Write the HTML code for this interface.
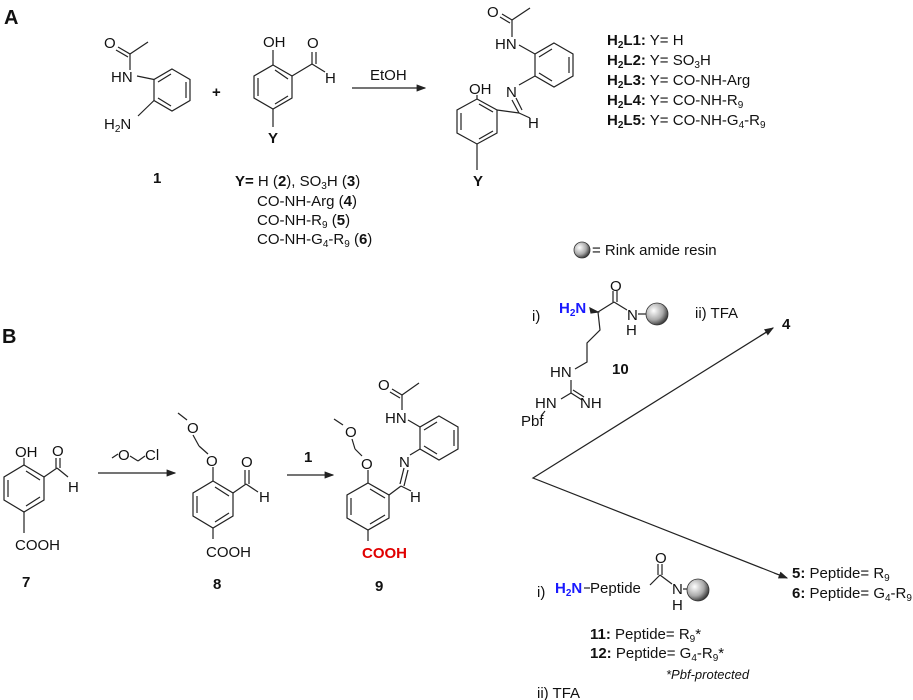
<!DOCTYPE html>
<html><head><meta charset="utf-8"><style>
html,body{margin:0;padding:0;background:#fff}
svg{display:block}
text{font-family:"Liberation Sans",Arial,sans-serif;font-size:15px;fill:#111}
.b{font-weight:bold}
.s{font-size:10px}
line,polyline,polygon{stroke:#222;stroke-width:1.2;fill:none}
</style></head><body>
<svg width="913" height="700" viewBox="0 0 913 700" xmlns="http://www.w3.org/2000/svg">
<defs>
<marker id="ah" markerWidth="8" markerHeight="6" refX="7" refY="3" orient="auto"><path d="M0,0 L8,3 L0,6 z" fill="#222"/></marker>
<radialGradient id="bead" cx="35%" cy="35%" r="70%"><stop offset="0" stop-color="#fff"/><stop offset="0.6" stop-color="#aaa"/><stop offset="1" stop-color="#333"/></radialGradient>
</defs>

<text x="4" y="24" class="b" style="font-size:20px">A</text>

<polygon points="172,69 190,79.5 190,100.5 172,111 154,100.5 154,79.5"/>
<line x1="186" y1="82" x2="186" y2="98"/><line x1="158" y1="82" x2="171" y2="74"/><line x1="158" y1="98" x2="171" y2="106"/>
<line x1="154" y1="79.5" x2="137" y2="76"/><line x1="154" y1="100.5" x2="138" y2="116"/>
<line x1="130" y1="70" x2="130" y2="54"/><line x1="130" y1="54" x2="148" y2="42"/>
<line x1="130" y1="54" x2="118" y2="47"/><line x1="128" y1="57" x2="116" y2="50"/>
<text x="104" y="48">O</text><text x="111" y="82">HN</text><text x="104" y="129">H<tspan class="s" dy="3">2</tspan><tspan dy="-3">N</tspan></text>
<text x="153" y="183" class="b">1</text>
<text x="212" y="97" class="b">+</text>

<polygon points="273,65 292,76 292,98 273,109 254,98 254,76"/>
<line x1="258" y1="78" x2="258" y2="96"/><line x1="288" y1="79" x2="275" y2="70"/><line x1="288" y1="96" x2="275" y2="104"/>
<line x1="273" y1="65" x2="273" y2="50"/>
<text x="263" y="47">OH</text>
<line x1="292" y1="76" x2="312" y2="64"/><line x1="312" y1="64" x2="312" y2="52"/><line x1="316" y1="64" x2="316" y2="52"/>
<text x="307" y="48">O</text>
<line x1="312" y1="64" x2="325" y2="72"/><text x="325" y="83">H</text>
<line x1="273" y1="109" x2="273" y2="127"/>
<text x="268" y="143" class="b">Y</text>

<line x1="352" y1="88" x2="425" y2="88" marker-end="url(#ah)"/>
<text x="370" y="80">EtOH</text>

<text x="235" y="186"><tspan class="b">Y=</tspan> H (<tspan class="b">2</tspan>), SO<tspan class="s" dy="3">3</tspan><tspan dy="-3">H (</tspan><tspan class="b">3</tspan>)</text>
<text x="257" y="206">CO-NH-Arg (<tspan class="b">4</tspan>)</text>
<text x="257" y="225">CO-NH-R<tspan class="s" dy="3">9</tspan><tspan dy="-3"> (</tspan><tspan class="b">5</tspan>)</text>
<text x="257" y="244">CO-NH-G<tspan class="s" dy="3">4</tspan><tspan dy="-3">-R</tspan><tspan class="s" dy="3">9</tspan><tspan dy="-3"> (</tspan><tspan class="b">6</tspan>)</text>

<polygon points="554,43 573,54 573,76 554,87 535,76 535,54"/>
<line x1="569" y1="57" x2="569" y2="73"/><line x1="539" y1="57" x2="552" y2="49"/><line x1="539" y1="73" x2="552" y2="81"/>
<line x1="535" y1="54" x2="519" y2="45"/>
<text x="495" y="49">HN</text>
<line x1="512" y1="37" x2="512" y2="20"/><line x1="512" y1="20" x2="530" y2="8"/>
<line x1="512" y1="20" x2="502" y2="14"/><line x1="510" y1="23" x2="500" y2="17"/>
<text x="487" y="17">O</text>
<line x1="535" y1="76" x2="519" y2="85"/>
<text x="506" y="97">N</text>
<line x1="512" y1="100" x2="519" y2="113"/><line x1="516" y1="98" x2="522" y2="110"/>
<line x1="519" y1="113" x2="530" y2="118"/><text x="528" y="128">H</text>
<polygon points="477,99 497,110 497,133 477,144 457,133 457,110"/>
<line x1="461" y1="113" x2="461" y2="130"/><line x1="493" y1="112" x2="479" y2="104"/><line x1="493" y1="131" x2="479" y2="139"/>
<line x1="497" y1="110" x2="519" y2="113"/>
<line x1="477" y1="99" x2="477" y2="95"/>
<text x="469" y="94">OH</text>
<line x1="477" y1="144" x2="477" y2="170"/>
<text x="473" y="186" class="b">Y</text>

<text x="607" y="45"><tspan class="b">H<tspan class="s" dy="3">2</tspan><tspan dy="-3">L1:</tspan></tspan> Y= H</text>
<text x="607" y="65"><tspan class="b">H<tspan class="s" dy="3">2</tspan><tspan dy="-3">L2:</tspan></tspan> Y= SO<tspan class="s" dy="3">3</tspan><tspan dy="-3">H</tspan></text>
<text x="607" y="85"><tspan class="b">H<tspan class="s" dy="3">2</tspan><tspan dy="-3">L3:</tspan></tspan> Y= CO-NH-Arg</text>
<text x="607" y="105"><tspan class="b">H<tspan class="s" dy="3">2</tspan><tspan dy="-3">L4:</tspan></tspan> Y= CO-NH-R<tspan class="s" dy="3">9</tspan></text>
<text x="607" y="125"><tspan class="b">H<tspan class="s" dy="3">2</tspan><tspan dy="-3">L5:</tspan></tspan> Y= CO-NH-G<tspan class="s" dy="3">4</tspan><tspan dy="-3">-R</tspan><tspan class="s" dy="3">9</tspan></text>

<circle cx="582" cy="250" r="8" fill="url(#bead)" stroke="#333" stroke-width="0.8"/>
<text x="592" y="255">= Rink amide resin</text>

<text x="2" y="343" class="b" style="font-size:20px">B</text>

<polygon points="24,465 44,477 44,500 24,512 4,500 4,477"/>
<line x1="8" y1="480" x2="8" y2="497"/><line x1="40" y1="480" x2="26" y2="471"/><line x1="40" y1="497" x2="26" y2="506"/>
<line x1="24" y1="465" x2="24" y2="458"/><text x="15" y="457">OH</text>
<line x1="44" y1="477" x2="57" y2="468"/><line x1="56" y1="468" x2="56" y2="458"/><line x1="60" y1="468" x2="60" y2="458"/>
<text x="52" y="456">O</text><line x1="57" y1="468" x2="68" y2="477"/><text x="68" y="492">H</text>
<line x1="24" y1="512" x2="24" y2="533"/>
<text x="15" y="550">COOH</text>
<text x="22" y="587" class="b">7</text>

<line x1="98" y1="473" x2="175" y2="473" marker-end="url(#ah)"/>
<line x1="112" y1="458" x2="118" y2="454"/><text x="118" y="460">O</text><line x1="130" y1="456" x2="138" y2="461"/><line x1="138" y1="461" x2="145" y2="456"/><text x="145" y="460">Cl</text>

<polygon points="213,481 233,493 233,516 213,528 193,516 193,493"/>
<line x1="197" y1="496" x2="197" y2="513"/><line x1="229" y1="496" x2="215" y2="487"/><line x1="229" y1="513" x2="215" y2="522"/>
<line x1="213" y1="481" x2="213" y2="467"/><text x="206" y="466">O</text>
<line x1="208" y1="454" x2="199" y2="446"/><line x1="199" y1="446" x2="193" y2="435"/>
<text x="187" y="433">O</text><line x1="187" y1="420" x2="178" y2="413"/>
<line x1="233" y1="493" x2="246" y2="484"/><line x1="245" y1="484" x2="245" y2="470"/><line x1="249" y1="484" x2="249" y2="470"/>
<text x="241" y="467">O</text><line x1="246" y1="484" x2="258" y2="492"/><text x="259" y="502">H</text>
<line x1="213" y1="528" x2="213" y2="539"/>
<text x="206" y="557">COOH</text>
<text x="213" y="589" class="b">8</text>

<line x1="287" y1="475" x2="333" y2="475" marker-end="url(#ah)"/>
<text x="304" y="462" class="b">1</text>

<polygon points="368,483 389,495 389,518 368,530 347,518 347,495"/>
<line x1="351" y1="498" x2="351" y2="515"/><line x1="385" y1="498" x2="370" y2="489"/><line x1="385" y1="515" x2="370" y2="524"/>
<line x1="368" y1="483" x2="368" y2="470"/><text x="361" y="469">O</text>
<line x1="362" y1="456" x2="355" y2="449"/><line x1="355" y1="449" x2="352" y2="439"/>
<text x="345" y="437">O</text><line x1="343" y1="425" x2="334" y2="419"/>
<line x1="389" y1="495" x2="401" y2="486"/><line x1="401" y1="486" x2="411" y2="491"/><text x="410" y="502">H</text>
<line x1="400" y1="484" x2="404" y2="468"/><line x1="404" y1="486" x2="408" y2="470"/>
<text x="399" y="467">N</text>
<polygon points="439,416 458,427 458,449 439,460 420,449 420,427"/>
<line x1="454" y1="430" x2="454" y2="446"/><line x1="424" y1="430" x2="437" y2="422"/><line x1="424" y1="446" x2="437" y2="454"/>
<line x1="420" y1="449" x2="410" y2="455"/>
<line x1="420" y1="427" x2="408" y2="420"/>
<text x="385" y="423">HN</text>
<line x1="402" y1="410" x2="402" y2="395"/><line x1="402" y1="395" x2="419" y2="383"/>
<line x1="402" y1="395" x2="392" y2="389"/><line x1="400" y1="398" x2="390" y2="392"/>
<text x="378" y="390">O</text>
<line x1="368" y1="530" x2="368" y2="541"/>
<text x="362" y="558" class="b" style="fill:#e00000">COOH</text>
<text x="375" y="591" class="b">9</text>

<polyline points="773,328 533,478 787,578" style="fill:none"/>
<line x1="760" y1="336" x2="773" y2="328" marker-end="url(#ah)"/>
<line x1="774" y1="573" x2="787" y2="578" marker-end="url(#ah)"/>
<text x="782" y="329" class="b">4</text>

<text x="532" y="321">i)</text>
<text x="559" y="313" class="b" style="fill:#1a1aff">H<tspan class="s" dy="3" style="fill:#1a1aff">2</tspan><tspan dy="-3">N</tspan></text>
<polygon points="590,308 598,312 591,313" style="fill:#222"/>
<line x1="598" y1="312" x2="614" y2="302"/><line x1="613" y1="302" x2="613" y2="291"/><line x1="617" y1="302" x2="617" y2="291"/>
<text x="610" y="291">O</text>
<line x1="614" y1="302" x2="627" y2="310"/>
<text x="627" y="320">N</text><text x="626" y="335">H</text>
<line x1="638" y1="314" x2="646" y2="314"/>
<circle cx="657" cy="314" r="11" fill="url(#bead)" stroke="#333" stroke-width="0.8"/>
<text x="695" y="318">ii) TFA</text>
<polyline points="598,312 600,330 587,343 587,362 575,369"/>
<text x="550" y="377">HN</text>
<text x="612" y="374" class="b">10</text>
<line x1="571" y1="380" x2="571" y2="393"/>
<line x1="571" y1="393" x2="582" y2="400"/><line x1="573" y1="390" x2="584" y2="397"/>
<line x1="571" y1="393" x2="561" y2="399"/>
<text x="535" y="408">HN</text><text x="580" y="408">NH</text>
<line x1="545" y1="411" x2="541" y2="416"/>
<text x="521" y="426">Pbf</text>

<text x="537" y="597">i)</text>
<text x="555" y="593" class="b" style="fill:#1a1aff">H<tspan class="s" dy="3" style="fill:#1a1aff">2</tspan><tspan dy="-3">N</tspan></text>
<line x1="584" y1="588" x2="590" y2="588"/>
<text x="590" y="593">Peptide</text>
<line x1="650" y1="585" x2="660" y2="575"/><line x1="658" y1="575" x2="658" y2="564"/><line x1="662" y1="575" x2="662" y2="564"/>
<text x="655" y="563">O</text>
<line x1="660" y1="575" x2="672" y2="584"/>
<text x="672" y="594">N</text><text x="672" y="610">H</text>
<line x1="683" y1="589" x2="688" y2="589"/>
<circle cx="698" cy="590" r="11" fill="url(#bead)" stroke="#333" stroke-width="0.8"/>
<text x="590" y="639"><tspan class="b">11:</tspan> Peptide= R<tspan class="s" dy="3">9</tspan><tspan dy="-3">*</tspan></text>
<text x="590" y="658"><tspan class="b">12:</tspan> Peptide= G<tspan class="s" dy="3">4</tspan><tspan dy="-3">-R</tspan><tspan class="s" dy="3">9</tspan><tspan dy="-3">*</tspan></text>
<text x="666" y="679" style="font-style:italic;font-size:13px">*Pbf-protected</text>
<text x="537" y="698">ii) TFA</text>

<text x="792" y="578"><tspan class="b">5:</tspan> Peptide= R<tspan class="s" dy="3">9</tspan></text>
<text x="792" y="598"><tspan class="b">6:</tspan> Peptide= G<tspan class="s" dy="3">4</tspan><tspan dy="-3">-R</tspan><tspan class="s" dy="3">9</tspan></text>
</svg>
</body></html>
